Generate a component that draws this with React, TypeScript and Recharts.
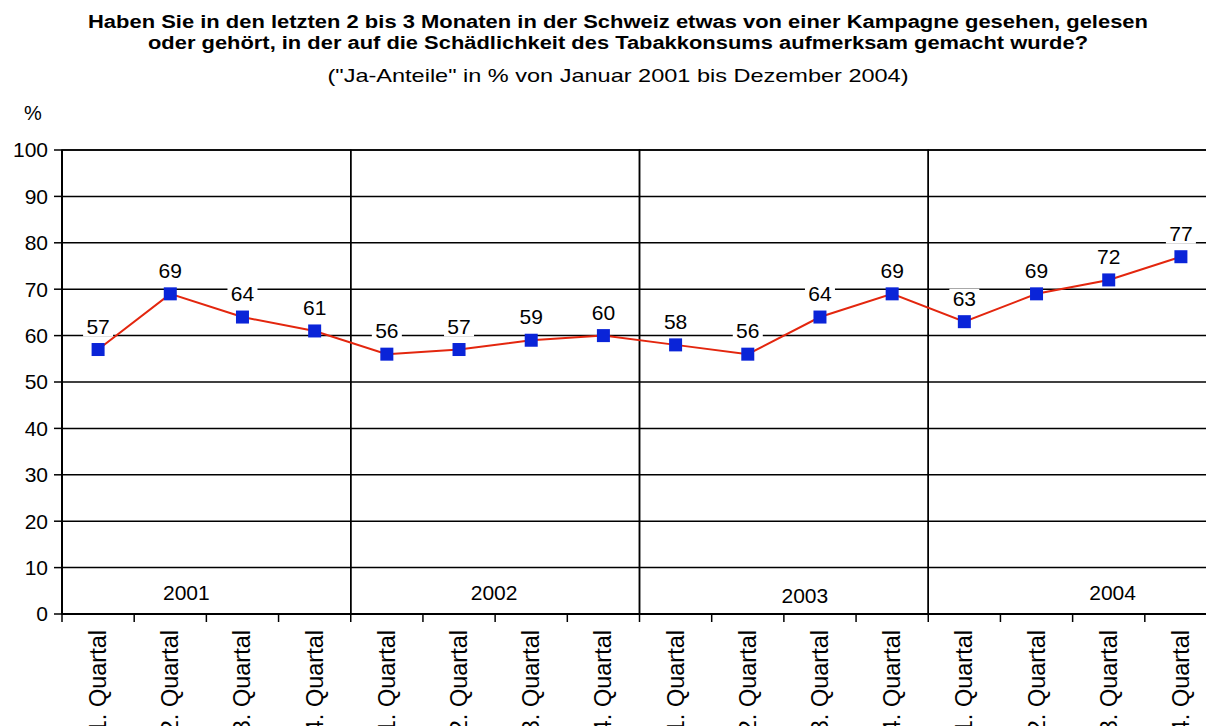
import React from 'react';
import {
  CartesianGrid,
  ComposedChart,
  LabelList,
  Line,
  ReferenceArea,
  XAxis,
  YAxis,
} from 'recharts';

const years = ['2001', '2002', '2003', '2004'];
const quarterLabels = ['1. Quartal', '2. Quartal', '3. Quartal', '4. Quartal'];
const jaAnteile = [57, 69, 64, 61, 56, 57, 59, 60, 58, 56, 64, 69, 63, 69, 72, 77];
const yTicks = [0, 10, 20, 30, 40, 50, 60, 70, 80, 90, 100];

const titleLines = [
  'Haben Sie in den letzten 2 bis 3 Monaten in der Schweiz etwas von einer Kampagne gesehen, gelesen',
  'oder gehört, in der auf die Schädlichkeit des Tabakkonsums aufmerksam gemacht wurde?',
];
const subtitle = '("Ja-Anteile" in % von Januar 2001 bis Dezember 2004)';

// one row per quarter; key is unique so the year areas can address it
const data = years.flatMap((year, yi) =>
  quarterLabels.map((q, qi) => ({
    key: `${year}-${qi + 1}`,
    quarter: q,
    value: jaAnteile[yi * 4 + qi],
  })),
);

const FONT = '"Liberation Sans", Arial, Helvetica, sans-serif';
const LINE_RED = '#e3260e';
const MARKER_BLUE = '#0a24d8';

// the original's lettering runs wider than Liberation Sans, so stretch the headings
const titleWidths = [1060, 940];
const subtitleWidth = 581;

// the year captions in the original sit a little off-centre
const yearLabelDx = [-20, -1, 21, 40];
const yearLabelDy = [0, 0, 3, 0];

const QuarterTick = (props: any) => {
  const { x, y, payload, index } = props;
  const half = payload?.offset ?? 36;
  const axisY = y - 14;
  const ty = y + 2;
  return (
    <g>
      <line x1={x - half} x2={x - half} y1={axisY} y2={axisY + 8} stroke="#000" strokeWidth={1.5} />
      {index === data.length - 1 && (
        <line x1={x + half} x2={x + half} y1={axisY} y2={axisY + 8} stroke="#000" strokeWidth={1.5} />
      )}
      <text
        x={x}
        y={ty}
        transform={`rotate(-90 ${x} ${ty})`}
        textAnchor="end"
        dominantBaseline="central"
        fontSize={23.5}
        fontFamily={FONT}
        fill="#000"
      >
        {data[index]?.quarter}
      </text>
    </g>
  );
};

const ValueLabel = (props: any) => {
  const { x, y, value } = props;
  const base = y - 16;
  return (
    <g>
      <rect x={x - 15} y={base - 17} width={30} height={20} fill="#fff" />
      <text x={x} y={base} textAnchor="middle" fontSize={21} fontFamily={FONT} fill="#000">
        {value}
      </text>
    </g>
  );
};

const SquareDot = (props: any) => {
  const { cx, cy, index } = props;
  return <rect key={index} x={cx - 6.5} y={cy - 6.5} width={13} height={13} fill={MARKER_BLUE} />;
};

const yearLabel = (i: number) => (props: any) => {
  const { viewBox } = props;
  const cx = viewBox.x + viewBox.width / 2 + yearLabelDx[i];
  const by = viewBox.y + viewBox.height - 14 + yearLabelDy[i];
  return (
    <text x={cx} y={by} textAnchor="middle" fontSize={21} fontFamily={FONT} fill="#000">
      {years[i]}
    </text>
  );
};

export default function App() {
  return (
    <div
      style={{
        position: 'absolute',
        left: 0,
        top: 0,
        width: 1206,
        height: 726,
        overflow: 'hidden',
        background: '#fff',
        fontFamily: FONT,
      }}
    >
      <svg width={1206} height={140} style={{ position: 'absolute', left: 0, top: 0 }}>
        {titleLines.map((t, i) => (
          <text
            key={i}
            x={618}
            y={28 + i * 21}
            textAnchor="middle"
            fontSize={18}
            fontWeight="bold"
            fontFamily={FONT}
            fill="#000"
            textLength={titleWidths[i]}
            lengthAdjust="spacingAndGlyphs"
          >
            {t}
          </text>
        ))}
        <text
          x={618}
          y={82}
          textAnchor="middle"
          fontSize={19}
          fontFamily={FONT}
          fill="#000"
          textLength={subtitleWidth}
          lengthAdjust="spacingAndGlyphs"
        >
          {subtitle}
        </text>
        <text x={33} y={120} textAnchor="middle" fontSize={20} fontFamily={FONT} fill="#000">
          %
        </text>
      </svg>
      <div style={{ position: 'absolute', left: 0, top: 0 }}>
        <ComposedChart
          width={1240}
          height={726}
          data={data}
          margin={{ top: 150, right: 23, bottom: 0, left: 0 }}
        >
          <CartesianGrid vertical={false} stroke="#000" strokeWidth={1.5} strokeOpacity={1} />
          <XAxis
            dataKey="key"
            scale="band"
            height={112}
            tickLine={false}
            tickSize={0}
            tickMargin={14}
            interval={0}
            axisLine={{ stroke: '#000', strokeWidth: 2 }}
            tick={<QuarterTick />}
          />
          <YAxis
            width={62}
            domain={[0, 100]}
            ticks={yTicks}
            interval={0}
            tickSize={8}
            tickMargin={6}
            tickLine={{ stroke: '#000', strokeWidth: 1.5 }}
            axisLine={{ stroke: '#000', strokeWidth: 2 }}
            tick={{ fontSize: 21, fill: '#000', fontFamily: FONT }}
          />
          {years.map((year, i) => (
            <ReferenceArea
              key={year}
              x1={`${year}-1`}
              x2={`${year}-4`}
              y1={0}
              y2={100}
              fill="none"
              fillOpacity={0}
              stroke="#000"
              strokeWidth={1.5}
              label={yearLabel(i)}
            />
          ))}
          <Line
            type="linear"
            dataKey="value"
            stroke={LINE_RED}
            strokeWidth={2}
            dot={SquareDot}
            activeDot={false}
            isAnimationActive={false}
          >
            <LabelList dataKey="value" content={<ValueLabel />} />
          </Line>
        </ComposedChart>
      </div>
    </div>
  );
}
